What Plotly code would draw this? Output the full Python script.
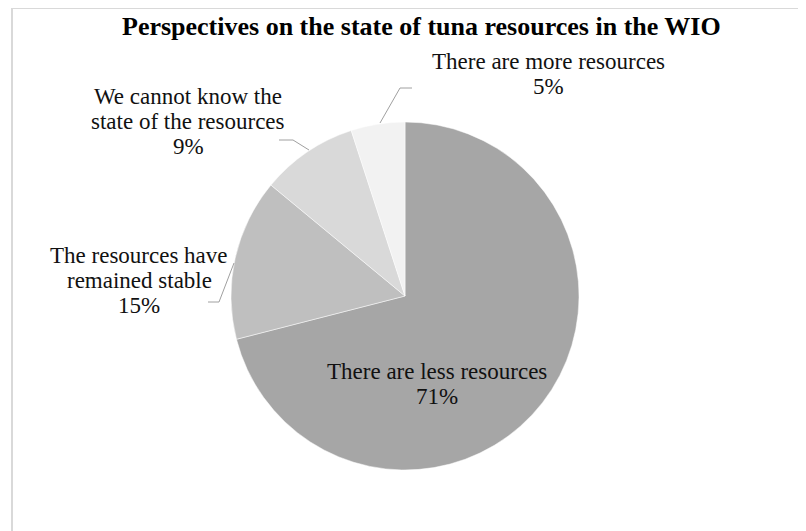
import plotly.graph_objects as go

# ---- data ----
categories = [
    "There are less resources",
    "The resources have<br>remained stable",
    "We cannot know the<br>state of the resources",
    "There are more resources",
]
values = [71, 15, 9, 5]
colors = ["#a6a6a6", "#bfbfbf", "#d9d9d9", "#f2f2f2"]
title_text = "Perspectives on the state of tuna resources in the WIO"

W, H = 806, 531
OFF = 8  # page body margin: screen pixel = plot pixel + OFF
FONT = "Liberation Serif, Times New Roman, serif"

# pie geometry (screen pixels)
cx, cy, r = 405, 296, 174
px0, py0 = cx - OFF, cy - OFF

fig = go.Figure()
fig.add_trace(go.Pie(
    labels=[c.replace("<br>", " ") for c in categories],
    values=values,
    sort=False,
    direction="clockwise",
    rotation=0,
    marker=dict(colors=colors, line=dict(color="#ffffff", width=0.5)),
    textinfo="none",
    hoverinfo="label+percent",
    showlegend=False,
    domain=dict(x=[(px0 - r) / W, (px0 + r) / W], y=[1 - (py0 + r) / H, 1 - (py0 - r) / H]),
))

# label placements: centre x and the y of the first line (screen pixels), line spacing
label_pos = [(437, 371), (139, 255), (188, 96), (548, 61)]
LINE = 25
leaders = [
    None,
    [(234, 263), (219, 302), (208, 302)],
    [(309, 150), (293, 140), (279, 140)],
    [(380, 123), (400, 88), (412, 88)],
]

annotations = []
for cat, v, (x, y) in zip(categories, values, label_pos):
    lines = cat.split("<br>") + [f"{v}%"]
    for i, ln in enumerate(lines):
        annotations.append(dict(
            x=x, y=y + i * LINE, xref="x", yref="y", showarrow=False,
            text=ln, align="center",
            font=dict(family=FONT, size=23, color="#111111"),
            xanchor="center", yanchor="middle",
        ))
annotations.append(dict(
    x=421, y=26, xref="x", yref="y", showarrow=False,
    text=f"<b>{title_text}</b>",
    font=dict(family=FONT, size=26, color="#000000"),
    xanchor="center", yanchor="middle",
))

shapes = []
for pts in leaders:
    if pts is None:
        continue
    path = "M " + " L ".join(f"{px},{py}" for px, py in pts)
    shapes.append(dict(type="path", path=path, xref="x", yref="y",
                       line=dict(color="#a0a0a0", width=1)))
# chart frame (left and top edges visible)
shapes.append(dict(type="line", x0=12, x1=12, y0=8, y1=H + 20, xref="x", yref="y",
                   line=dict(color="#d9d9d9", width=2)))
shapes.append(dict(type="line", x0=12, x1=W + 20, y0=8, y1=8, xref="x", yref="y",
                   line=dict(color="#d9d9d9", width=2)))

fig.update_layout(
    width=W, height=H,
    margin=dict(l=0, r=0, t=0, b=0),
    paper_bgcolor="white", plot_bgcolor="rgba(0,0,0,0)",
    xaxis=dict(range=[OFF, W + OFF], visible=False, fixedrange=True),
    yaxis=dict(range=[H + OFF, OFF], visible=False, fixedrange=True),
    annotations=annotations,
    shapes=shapes,
)

fig.write_html("out.html")
